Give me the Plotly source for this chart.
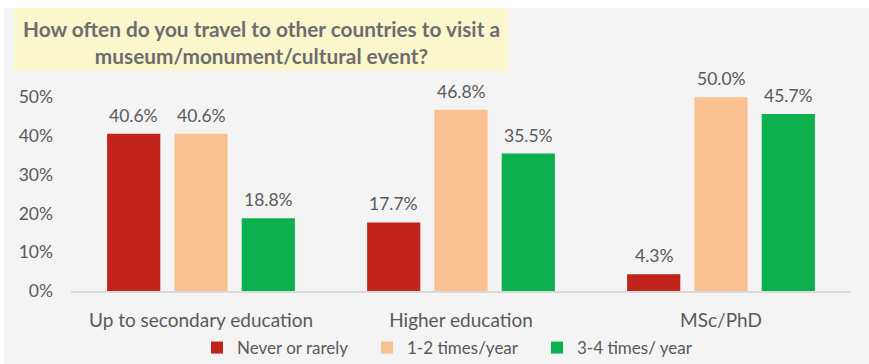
import plotly.graph_objects as go

# Survey data
categories = ["Up to secondary education", "Higher education", "MSc/PhD"]
series_names = ["Never or rarely", "1-2 times/year", "3-4 times/ year"]
never_rarely = [0.406, 0.177, 0.043]
one_two = [0.406, 0.468, 0.500]
three_four = [0.188, 0.355, 0.457]
y_ticks = [0, 0.1, 0.2, 0.3, 0.4, 0.5]
title_text = "How often do you travel to other countries to visit a<br>museum/monument/cultural event?"

colors = ["#c0231a", "#f8c18f", "#0cb04f"]
series_values = [never_rarely, one_two, three_four]

W, H = 869, 364
ML, MR, MT, MB = 71, 18, 78, 73
PW, PH = W - ML - MR, H - MT - MB
TXT = "#595959"
FONT = "Lato"


def px_x(x):
    return (x - ML) / PW


def px_y(y):
    return (H - MB - y) / PH


fig = go.Figure()
for name, vals, col in zip(series_names, series_values, colors):
    fig.add_trace(go.Bar(
        x=categories, y=vals, name=name,
        marker=dict(color=col, line=dict(width=0)),
    ))

# value labels above each bar
bar_pitch = 67.3
for i, vals in enumerate(series_values):
    for cat, v in zip(categories, vals):
        fig.add_annotation(
            x=cat, y=v, xref="x", yref="y",
            text=f"{v*100:.1f}%", showarrow=False,
            xshift=(i - 1) * bar_pitch, yshift=6, yanchor="bottom",
            font=dict(family=FONT, size=17.5, color=TXT),
        )

# grey chart-area background
fig.add_shape(
    type="rect", xref="paper", yref="paper", layer="below",
    x0=px_x(4), x1=px_x(W + 5), y0=px_y(H + 5), y1=px_y(8),
    fillcolor="#f4f4f4", line=dict(width=0),
)
# yellow title panel
fig.add_shape(
    type="rect", xref="paper", yref="paper", layer="below",
    x0=px_x(14), x1=px_x(508), y0=px_y(71), y1=px_y(8),
    fillcolor="#faf7cd", line=dict(width=0),
)
fig.add_annotation(
    x=px_x(261), y=px_y(42), xref="paper", yref="paper",
    xanchor="center", yanchor="middle", showarrow=False,
    text=f"<b>{title_text}</b>", align="center",
    font=dict(family=FONT, size=20.8, color="#6d6d6d"),
)

fig.update_layout(
    width=W, height=H,
    margin=dict(l=ML, r=MR, t=MT, b=MB, pad=0, autoexpand=False),
    paper_bgcolor="white", plot_bgcolor="rgba(0,0,0,0)",
    barmode="group", bargap=0.2235, bargroupgap=0.21,
    font=dict(family=FONT, color=TXT),
    showlegend=True,
    legend=dict(
        orientation="h", x=px_x(197), y=px_y(348),
        xanchor="left", yanchor="middle",
        font=dict(family=FONT, size=17, color=TXT),
        bgcolor="rgba(0,0,0,0)", entrywidth=125, entrywidthmode="pixels",
        traceorder="normal",
    ),
)
fig.update_xaxes(
    showline=True, linecolor="#d9d9d9", linewidth=2,
    showgrid=False, ticks="", ticklabelstandoff=11,
    tickfont=dict(family=FONT, size=19, color=TXT),
    fixedrange=True,
)
fig.update_yaxes(
    range=[0, 0.55], tickvals=y_ticks, tickformat=".0%",
    showgrid=False, zeroline=False, showline=False, ticks="",
    ticklabelstandoff=17,
    tickfont=dict(family=FONT, size=17.5, color=TXT),
    fixedrange=True,
)

fig.write_html("out.html")
